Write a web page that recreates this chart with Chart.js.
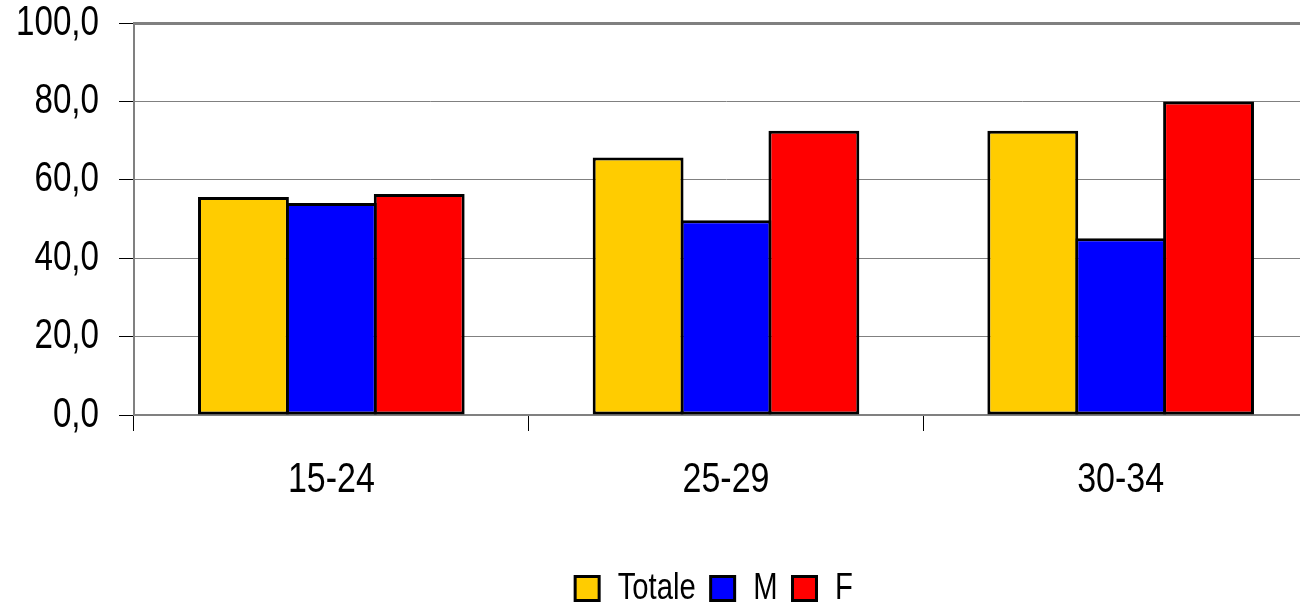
<!DOCTYPE html>
<html>
<head>
<meta charset="utf-8">
<script src="https://cdn.jsdelivr.net/npm/chart.js@4.4.1/dist/chart.umd.min.js"></script>
<style>
  html, body { margin: 0; padding: 0; background: #fff; overflow: hidden; width: 1300px; height: 605px; }
  #wrap { position: absolute; left: 0; top: 0; width: 1428px; height: 605px; }
</style>
</head>
<body>
<div id="wrap"><canvas id="chart" width="1428" height="605"></canvas></div>
<script>
// Age groups and shares (%) for total, men and women
const categories = ['15-24', '25-29', '30-34'];
const totale = [55.6, 65.7, 72.5];
const maschi = [54.1, 49.7, 45.1];
const femmine = [56.4, 72.5, 80.0];

const yTickValues = [0, 20, 40, 60, 80, 100];
const yTickLabels = ['0,0', '20,0', '40,0', '60,0', '80,0', '100,0'];

const FONT = '"Liberation Sans", Arial, sans-serif';
const NARROW = 0.79; // horizontal squeeze giving a narrow sans look

const canvas = document.getElementById('chart');
const ctx = canvas.getContext('2d');

// Narrow text rendering: squeeze glyphs horizontally around their anchor
const baseFillText = ctx.fillText.bind(ctx);
const baseMeasureText = ctx.measureText.bind(ctx);
ctx.fillText = function (text, x, y, maxWidth) {
  this.save();
  this.translate(x, y);
  this.scale(NARROW, 1);
  if (maxWidth === undefined) {
    baseFillText(text, 0, 0);
  } else {
    baseFillText(text, 0, 0, maxWidth / NARROW);
  }
  this.restore();
};
ctx.measureText = function (text) {
  const m = baseMeasureText(text);
  return {
    width: m.width * NARROW,
    actualBoundingBoxLeft: m.actualBoundingBoxLeft * NARROW,
    actualBoundingBoxRight: m.actualBoundingBoxRight * NARROW,
    actualBoundingBoxAscent: m.actualBoundingBoxAscent,
    actualBoundingBoxDescent: m.actualBoundingBoxDescent,
    fontBoundingBoxAscent: m.fontBoundingBoxAscent,
    fontBoundingBoxDescent: m.fontBoundingBoxDescent
  };
};

const barStyle = {
  borderColor: '#000000',
  borderWidth: 3,
  borderSkipped: false,
  categoryPercentage: 0.668,
  barPercentage: 1.034
};

new Chart(ctx, {
  type: 'bar',
  data: {
    labels: categories,
    datasets: [
      Object.assign({ label: 'Totale', data: totale, backgroundColor: '#FFCC00' }, barStyle),
      Object.assign({ label: 'M', data: maschi, backgroundColor: '#0000FF' }, barStyle),
      Object.assign({ label: 'F', data: femmine, backgroundColor: '#FF0000' }, barStyle)
    ]
  },
  options: {
    responsive: false,
    animation: false,
    devicePixelRatio: 1,
    layout: { padding: { left: 0, right: 0, top: 23, bottom: -12 } },
    plugins: {
      tooltip: { enabled: false },
      legend: {
        position: 'bottom',
        labels: {
          font: { family: FONT, size: 37 },
          color: '#000',
          boxWidth: 24,
          boxHeight: 24,
          padding: 15
        }
      }
    },
    scales: {
      x: {
        afterFit: (scale) => {
          scale.height = 140;
          scale.paddingLeft = 0;
          scale.paddingRight = 0;
        },
        grid: {
          drawOnChartArea: false,
          drawTicks: true,
          tickLength: 16,
          tickColor: '#000',
          tickWidth: 1,
          offset: true
        },
        border: { color: '#808080', width: 2 },
        ticks: {
          font: { family: FONT, size: 43 },
          color: '#000',
          padding: 23,
          maxRotation: 0
        }
      },
      y: {
        min: 0,
        max: 100,
        afterBuildTicks: (scale) => {
          scale.ticks = yTickValues.map(v => ({ value: v }));
        },
        afterFit: (scale) => {
          scale.width = 134;
          scale.paddingTop = 0;
          scale.paddingBottom = 0;
        },
        grid: {
          color: '#808080',
          lineWidth: (c) => (c.tick && c.tick.value === 100 ? 3 : 1),
          tickColor: '#000',
          tickLength: 15,
          tickWidth: 1
        },
        border: { color: '#808080', width: 2 },
        ticks: {
          font: { family: FONT, size: 42 },
          color: '#000',
          padding: 20,
          callback: (value, index) => yTickLabels[index]
        }
      },
      // empty spacer on the right, reserving the space beyond the plot
      spacer: {
        type: 'linear',
        position: 'right',
        display: true,
        afterFit: (scale) => {
          scale.width = 110;
          scale.paddingTop = 0;
          scale.paddingBottom = 0;
        },
        grid: { display: false, drawTicks: false },
        border: { display: false },
        ticks: { display: false }
      }
    }
  }
});
</script>
</body>
</html>
